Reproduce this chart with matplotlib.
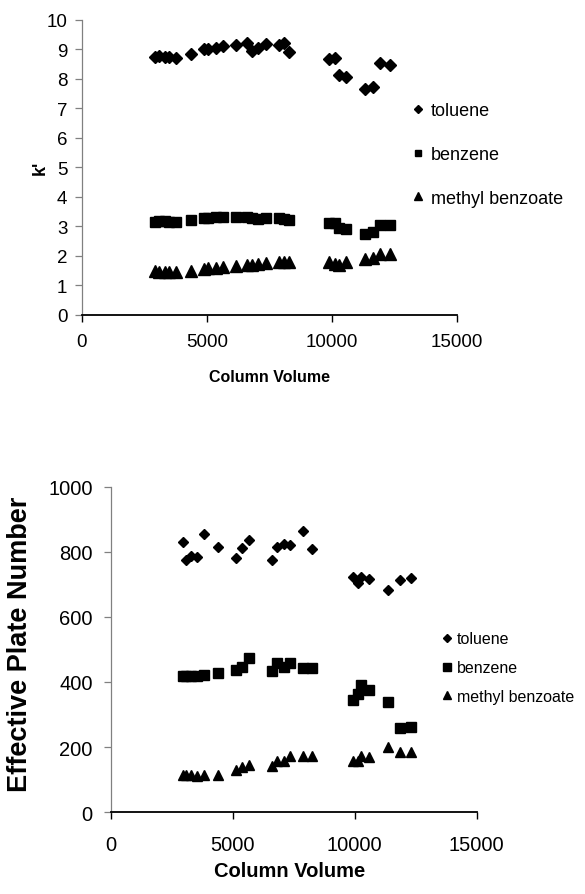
import matplotlib
matplotlib.use("Agg")
import matplotlib.pyplot as plt

# ---- data: top chart (k') ----
x_top = [2940, 3100, 3340, 3475, 3770, 4370, 4865, 5035, 5375, 5640, 6175, 6600, 6815,
         7040, 7380, 7885, 8070, 8285, 9890, 10130, 10265, 10560, 11320, 11650, 11920, 12320]
tol_top = [8.73, 8.76, 8.74, 8.73, 8.71, 8.84, 8.99, 8.99, 9.04, 9.12, 9.15, 9.21, 8.95,
           9.03, 9.16, 9.15, 9.20, 8.90, 8.65, 8.69, 8.11, 8.04, 7.64, 7.72, 8.54, 8.45]
ben_top = [3.15, 3.17, 3.17, 3.15, 3.15, 3.22, 3.28, 3.27, 3.30, 3.30, 3.30, 3.30, 3.27,
           3.25, 3.28, 3.28, 3.25, 3.22, 3.12, 3.10, 2.93, 2.90, 2.75, 2.82, 3.03, 3.05]
mb_top = [1.50, 1.47, 1.45, 1.45, 1.45, 1.50, 1.57, 1.58, 1.60, 1.62, 1.65, 1.68, 1.70,
          1.72, 1.75, 1.78, 1.80, 1.78, 1.80, 1.72, 1.70, 1.78, 1.90, 1.92, 2.05, 2.05]

# ---- data: bottom chart (effective plate number) ----
x_bot = [2970, 3110, 3310, 3520, 3815, 4390, 5120, 5400, 5650, 6620, 6810, 7085, 7370,
         7890, 8240, 9920, 10150, 10270, 10600, 11350, 11860, 12320]
tol_bot = [830, 775, 787, 783, 855, 813, 780, 810, 835, 775, 813, 822, 821,
           862, 807, 723, 704, 723, 717, 682, 714, 719]
ben_bot = [419, 419, 418, 417, 421, 427, 438, 447, 474, 435, 458, 445, 458,
           443, 443, 344, 363, 391, 374, 339, 260, 263]
mb_bot = [113, 115, 113, 111, 113, 115, 131, 139, 144, 141, 157, 157, 173,
          173, 173, 157, 157, 173, 169, 201, 186, 186]

series_names = ["toluene", "benzene", "methyl benzoate"]
markers = ["D", "s", "^"]

plt.rcParams['font.family'] = ['Liberation Sans', 'DejaVu Sans']

fig = plt.figure(figsize=(5.85, 8.95), dpi=100)

ax1 = fig.add_axes([0.140, 0.647, 0.641, 0.330])
ax2 = fig.add_axes([0.189, 0.0913, 0.626, 0.364])


def style(ax, tick_fs, xpad, ypad):
    for s in ["top", "right"]:
        ax.spines[s].set_visible(False)
    ax.spines["left"].set_color("#808080")
    ax.spines["left"].set_linewidth(0.9)
    ax.spines["bottom"].set_color("black")
    ax.spines["bottom"].set_linewidth(1.3)
    ax.tick_params(axis="y", direction="out", length=5, width=0.9, color="#808080",
                   labelsize=tick_fs, pad=ypad)
    ax.tick_params(axis="x", direction="out", length=5, width=1.0, color="black",
                   labelsize=tick_fs, pad=xpad)


# top chart
sizes_top = [6.0, 7.0, 8.0]
for ys, m, ms, name in zip([tol_top, ben_top, mb_top], markers, sizes_top, series_names):
    ax1.plot(x_top, ys, linestyle="none", marker=m, markersize=ms,
             color="black", label=name)
ax1.set_xlim(0, 15000)
ax1.set_ylim(0, 10)
ax1.set_xticks([0, 5000, 10000, 15000])
ax1.set_yticks(range(0, 11))
style(ax1, 13.5, 8, 5.5)
ax1.set_xlabel("Column Volume", fontsize=11.5, fontweight="bold", va="center")
ax1.xaxis.set_label_coords(0.5, -0.21)
ax1.set_ylabel("k'", fontsize=13, fontweight="bold", va="center")
ax1.yaxis.set_label_coords(-0.112, 0.5)
leg1 = ax1.legend(loc="upper left", bbox_to_anchor=(0.882, 0.721), frameon=False,
                  fontsize=13, handlelength=0.6, handletextpad=0.4, borderpad=0,
                  labelspacing=1.49, borderaxespad=0, markerscale=0.7)

# bottom chart
sizes_bot = [5.5, 7, 7.5]
for ys, m, ms, name in zip([tol_bot, ben_bot, mb_bot], markers, sizes_bot, series_names):
    ax2.plot(x_bot, ys, linestyle="none", marker=m, markersize=ms,
             color="black", label=name)
ax2.set_xlim(0, 15000)
ax2.set_ylim(0, 1000)
ax2.set_xticks([0, 5000, 10000, 15000])
ax2.set_yticks(range(0, 1001, 200))
style(ax2, 14.5, 11, 8)
ax2.set_xlabel("Column Volume", fontsize=14.5, fontweight="bold", va="center")
ax2.xaxis.set_label_coords(0.49, -0.18)
ax2.set_ylabel("Effective Plate Number", fontsize=19.5, fontweight="bold", va="center")
ax2.yaxis.set_label_coords(-0.248, 0.52)
leg2 = ax2.legend(loc="upper left", bbox_to_anchor=(0.906, 0.555), frameon=False,
                  fontsize=11.5, handlelength=0.6, handletextpad=0.33, borderpad=0,
                  labelspacing=0.86, borderaxespad=0, markerscale=0.8)

fig.savefig("out.png", dpi=100, facecolor="white")
